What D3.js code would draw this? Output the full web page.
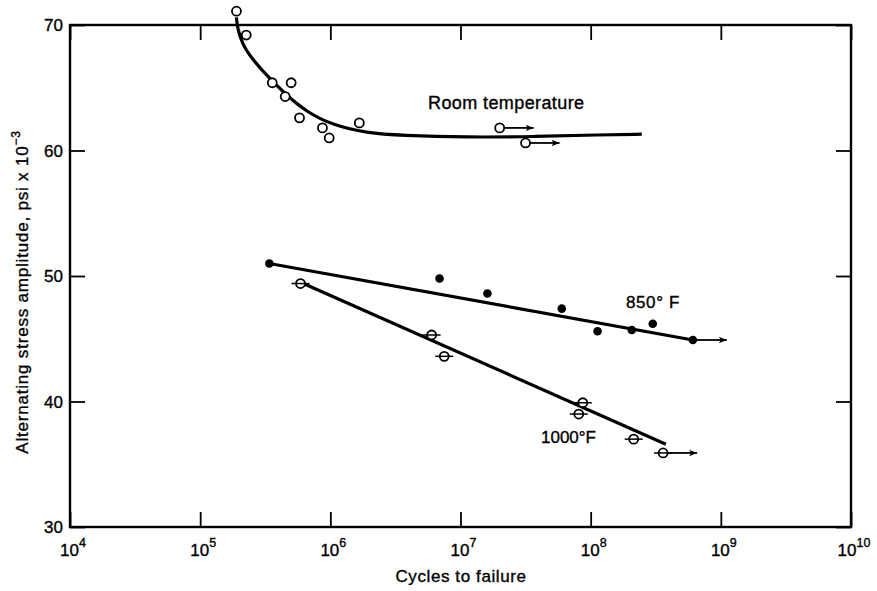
<!DOCTYPE html>
<html>
<head>
<meta charset="utf-8">
<script src="https://cdn.jsdelivr.net/npm/d3@7"></script>
<style>
  body { margin: 0; background: #fff; }
  svg { font-family: "Liberation Sans", Arial, sans-serif; }
  svg text { fill: #000; stroke: #000; stroke-width: 0.35px; }
</style>
</head>
<body>
<svg id="chart" width="877" height="591"></svg>
<script>
// data
var decades = [4, 5, 6, 7, 8, 9, 10];
var stressTicks = [30, 40, 50, 60, 70];

// room temperature (open circles)
var roomN = [1.9e5, 2.26e5, 3.58e5, 5.0e5, 4.5e5, 5.8e5, 8.7e5, 9.8e5, 1.67e6, 2.0e7, 3.16e7];
var roomS = [71.1, 69.2, 65.4, 65.4, 64.3, 62.6, 61.8, 61.0, 62.2, 61.8, 60.6];
var roomRunout = [0, 0, 0, 0, 0, 0, 0, 0, 0, 1, 1];
var roomCurveN = [1.9e5, 1.93e5, 2.1e5, 2.5e5, 3.3e5, 4.5e5, 6.5e5, 1.05e6, 1.9e6, 3.5e6, 1.13e7, 3.65e7, 1.19e8, 2.47e8];
var roomCurveS = [70.6, 69.8, 68.5, 67.3, 65.9, 64.5, 63.1, 62.0, 61.4, 61.2, 61.05, 61.1, 61.25, 61.3];

// 850 F (filled dots)
var f850N = [3.4e5, 6.9e6, 1.61e7, 6.0e7, 1.13e8, 2.07e8, 3.0e8, 6.1e8];
var f850S = [51.0, 49.8, 48.6, 47.4, 45.6, 45.7, 46.2, 44.9];
var f850Runout = [0, 0, 0, 0, 0, 0, 0, 1];
var f850LineN = [3.4e5, 6.1e8];
var f850LineS = [51.0, 44.9];

// 1000 F (open circles with bar)
var f1000N = [5.9e5, 6.0e6, 7.5e6, 8.7e7, 8.1e7, 2.14e8, 3.6e8];
var f1000S = [49.4, 45.3, 43.6, 39.9, 39.0, 37.0, 35.9];
var f1000Runout = [0, 0, 0, 0, 0, 0, 1];
var f1000LineN = [6.2e5, 3.78e8];
var f1000LineS = [49.4, 36.6];

var svg = d3.select('#chart');
var pLeft = 70, pRight = 851, pTop = 25, pBottom = 527;
var tick = 15;

var x = d3.scaleLog().domain([1e4, 1e10]).range([pLeft, pRight]);
var y = d3.scaleLinear().domain([30, 70]).range([pBottom, pTop]);

var decVals = decades.map(function(d) { return Math.pow(10, d); });

// ticks pointing inward on all four sides
svg.append('g').attr('transform', 'translate(0,' + pBottom + ')')
  .call(d3.axisBottom(x).tickValues(decVals).tickSizeInner(-tick).tickSizeOuter(0).tickFormat(''));
svg.append('g').attr('transform', 'translate(0,' + pTop + ')')
  .call(d3.axisTop(x).tickValues(decVals).tickSizeInner(-tick).tickSizeOuter(0).tickFormat(''));
svg.append('g').attr('transform', 'translate(' + pLeft + ',0)')
  .call(d3.axisLeft(y).tickValues(stressTicks).tickSizeInner(-tick).tickSizeOuter(0).tickFormat(''));
svg.append('g').attr('transform', 'translate(' + pRight + ',0)')
  .call(d3.axisRight(y).tickValues(stressTicks).tickSizeInner(-tick).tickSizeOuter(0).tickFormat(''));
svg.selectAll('.domain').remove();
svg.selectAll('.tick line').attr('stroke', '#000').attr('stroke-width', 1.8);

svg.append('rect').attr('x', pLeft).attr('y', pTop)
  .attr('width', pRight - pLeft).attr('height', pBottom - pTop)
  .attr('fill', 'none').attr('stroke', '#000').attr('stroke-width', 2.4);

// y tick labels
svg.selectAll('.ylab').data(stressTicks).enter().append('text')
  .attr('class', 'ylab')
  .attr('x', pLeft - 7).attr('y', function(d) { return y(d) + 6; })
  .attr('text-anchor', 'end').attr('font-size', 17)
  .text(function(d) { return d; });

// x tick labels 10^n
var xl = svg.selectAll('.xlab').data(decades).enter().append('text')
  .attr('class', 'xlab')
  .attr('x', function(d) { return x(Math.pow(10, d)) + 3; })
  .attr('y', pBottom + 29)
  .attr('text-anchor', 'middle').attr('font-size', 17);
xl.append('tspan').text('10');
xl.append('tspan').attr('dy', -9).attr('font-size', 12.5).text(function(d) { return d; });

svg.append('text').attr('x', 461).attr('y', 582)
  .attr('text-anchor', 'middle').attr('font-size', 17).attr('letter-spacing', 0.6)
  .text('Cycles to failure');

var yt = svg.append('text')
  .attr('transform', 'translate(28,' + 292 + ') rotate(-90)')
  .attr('text-anchor', 'middle').attr('font-size', 17).attr('letter-spacing', 0.8);
yt.append('tspan').text('Alternating stress amplitude, psi x 10');
yt.append('tspan').attr('dy', -8).attr('font-size', 12).text('\u22123');

// arrow marker
svg.append('defs').append('marker')
  .attr('id', 'arr').attr('viewBox', '0 0 10 10').attr('refX', 10).attr('refY', 5)
  .attr('markerWidth', 14).attr('markerHeight', 8).attr('markerUnits', 'userSpaceOnUse')
  .attr('orient', 'auto')
  .append('path').attr('d', 'M0,1 L10,5 L0,9 L2.5,5 Z').attr('fill', '#000');

function zip(a, b, c) {
  return a.map(function(v, i) { return { n: v, s: b[i], r: c ? c[i] : 0 }; });
}

var line = d3.line().x(function(d) { return x(d.n); }).y(function(d) { return y(d.s); });

svg.append('path').datum(zip(roomCurveN, roomCurveS))
  .attr('d', line.curve(d3.curveBasis))
  .attr('fill', 'none').attr('stroke', '#000').attr('stroke-width', 3.2);
line.curve(d3.curveLinear);
svg.append('path').datum(zip(f850LineN, f850LineS))
  .attr('d', line).attr('fill', 'none').attr('stroke', '#000').attr('stroke-width', 3.2);
svg.append('path').datum(zip(f1000LineN, f1000LineS))
  .attr('d', line).attr('fill', 'none').attr('stroke', '#000').attr('stroke-width', 3.2);

function runouts(data) {
  svg.append('g').selectAll('line').data(data.filter(function(d) { return d.r; }))
    .enter().append('line')
    .attr('x1', function(d) { return x(d.n) + 4; })
    .attr('x2', function(d) { return x(d.n) + 34; })
    .attr('y1', function(d) { return y(d.s); })
    .attr('y2', function(d) { return y(d.s); })
    .attr('stroke', '#000').attr('stroke-width', 1.8)
    .attr('marker-end', 'url(#arr)');
}

var room = zip(roomN, roomS, roomRunout);
var hot = zip(f850N, f850S, f850Runout);
var hotter = zip(f1000N, f1000S, f1000Runout);
runouts(room); runouts(hot); runouts(hotter);

svg.append('g').selectAll('circle').data(room).enter().append('circle')
  .attr('cx', function(d) { return x(d.n); }).attr('cy', function(d) { return y(d.s); })
  .attr('r', 4.5).attr('fill', '#fff').attr('stroke', '#000').attr('stroke-width', 1.8);

svg.append('g').selectAll('circle').data(hot).enter().append('circle')
  .attr('cx', function(d) { return x(d.n); }).attr('cy', function(d) { return y(d.s); })
  .attr('r', 4.3).attr('fill', '#000');

var g1000 = svg.append('g').selectAll('g').data(hotter).enter().append('g');
g1000.append('circle')
  .attr('cx', function(d) { return x(d.n); }).attr('cy', function(d) { return y(d.s); })
  .attr('r', 4.5).attr('fill', '#fff').attr('stroke', '#000').attr('stroke-width', 1.8);
g1000.append('line')
  .attr('x1', function(d) { return x(d.n) - 9; }).attr('x2', function(d) { return x(d.n) + 9; })
  .attr('y1', function(d) { return y(d.s); }).attr('y2', function(d) { return y(d.s); })
  .attr('stroke', '#000').attr('stroke-width', 1.5);

// curve labels
svg.append('text').attr('x', 428).attr('y', 109).attr('font-size', 18).attr('letter-spacing', 0.4)
  .text('Room temperature');
svg.append('text').attr('x', 626).attr('y', 308).attr('font-size', 17).attr('letter-spacing', 0.6)
  .text('850\u00b0 F');
svg.append('text').attr('x', 541).attr('y', 443).attr('font-size', 17)
  .text('1000\u00b0F');
</script>
</body>
</html>
